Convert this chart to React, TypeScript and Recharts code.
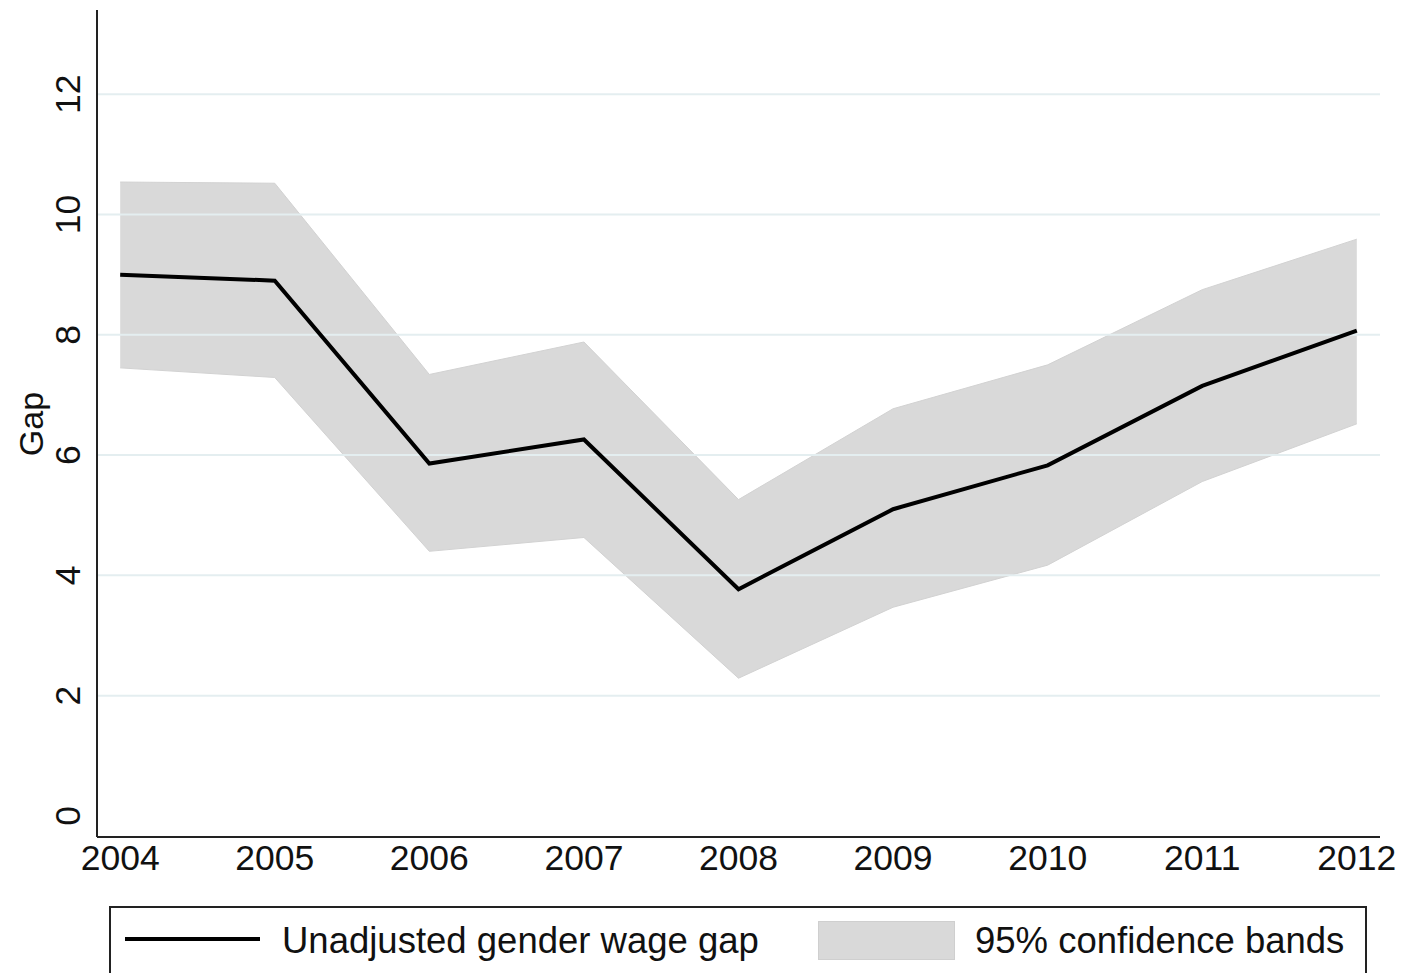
import React from 'react';
import { ComposedChart, Area, Line, XAxis, YAxis, ReferenceLine } from 'recharts';

const years = [2004, 2005, 2006, 2007, 2008, 2009, 2010, 2011, 2012];
const gapValues = [9.0, 8.9, 5.86, 6.26, 3.77, 5.1, 5.83, 7.15, 8.07];
const upperBand = [10.54, 10.52, 7.34, 7.88, 5.26, 6.77, 7.5, 8.75, 9.59];
const lowerBand = [7.45, 7.29, 4.4, 4.63, 2.29, 3.47, 4.17, 5.56, 6.52];
const yTicks = [0, 2, 4, 6, 8, 10, 12];
const gridLevels = [2, 4, 6, 8, 10, 12];

const FONT = '"Liberation Sans", Arial, Helvetica, sans-serif';

const XTick = (props: any) => {
  const { x, y, payload } = props;
  return (
    <text x={x} y={y + 33} textAnchor="middle" fontSize={35.5} fill="#111" fontFamily={FONT}>
      {payload.value}
    </text>
  );
};

const YTick = (props: any) => {
  const { y, payload } = props;
  const bx = 80;
  return (
    <text
      x={bx}
      y={y}
      textAnchor="middle"
      fontSize={35.5}
      fill="#111"
      fontFamily={FONT}
      transform={`rotate(-90, ${bx}, ${y})`}
    >
      {payload.value}
    </text>
  );
};

const GapLabel = () => (
  <text
    x={43}
    y={424}
    textAnchor="middle"
    fontSize={34}
    fill="#111"
    fontFamily={FONT}
    transform="rotate(-90, 43, 424)"
  >
    Gap
  </text>
);

export default function App() {
  const data = years.map((year, i) => ({
    year,
    gap: gapValues[i],
    band: [lowerBand[i], upperBand[i]],
  }));

  return (
    <div style={{ position: 'relative', width: 1401, height: 973, background: '#fff', fontFamily: FONT }}>
      <style>{'body{margin:0;}'}</style>
      <ComposedChart width={1401} height={973} data={data} margin={{ top: 10, right: 21, bottom: 0, left: 0 }}>
        <XAxis
          dataKey="year"
          type="number"
          domain={[2003.85, 2012.15]}
          ticks={years}
          height={136}
          tickSize={0}
          tickMargin={0}
          tick={<XTick />}
          axisLine={{ stroke: '#222', strokeWidth: 2 }}
          tickLine={false}
          allowDataOverflow
        />
        <YAxis
          type="number"
          domain={[-0.35, 13.4]}
          ticks={yTicks}
          width={97}
          tickSize={0}
          tickMargin={0}
          tick={<YTick />}
          axisLine={{ stroke: '#222', strokeWidth: 2 }}
          tickLine={false}
          allowDataOverflow
          label={<GapLabel />}
        />
        {gridLevels.map((v) => (
          <ReferenceLine key={v} y={v} stroke="#e4eef0" strokeWidth={2} />
        ))}
        <Area
          dataKey="band"
          type="linear"
          fill="#d9d9d9"
          fillOpacity={1}
          stroke="#d2d2d2"
          strokeWidth={1}
          isAnimationActive={false}
        />
        <Line
          dataKey="gap"
          type="linear"
          stroke="#000"
          strokeWidth={4}
          dot={false}
          activeDot={false}
          isAnimationActive={false}
        />
      </ComposedChart>
      <div
        style={{
          position: 'absolute',
          left: 109,
          top: 906,
          width: 1258,
          height: 70,
          boxSizing: 'border-box',
          borderTop: '2px solid #222',
          borderLeft: '2px solid #222',
          borderRight: '2px solid #222',
          borderBottom: '2px solid #eee',
        }}
      >
        <svg width={1258} height={70} style={{ position: 'absolute', left: -2, top: -2 }}>
          <line x1={16} y1={33} x2={151} y2={33} stroke="#000" strokeWidth={4} />
          <text x={173} y={47} fontSize={36.5} fill="#111" fontFamily={FONT}>
            Unadjusted gender wage gap
          </text>
          <rect x={709.5} y={15.5} width={136} height={38} fill="#d9d9d9" stroke="#cfcfcf" strokeWidth={1} />
          <text x={866} y={47} fontSize={36.5} fill="#111" fontFamily={FONT}>
            95% confidence bands
          </text>
        </svg>
      </div>
    </div>
  );
}
